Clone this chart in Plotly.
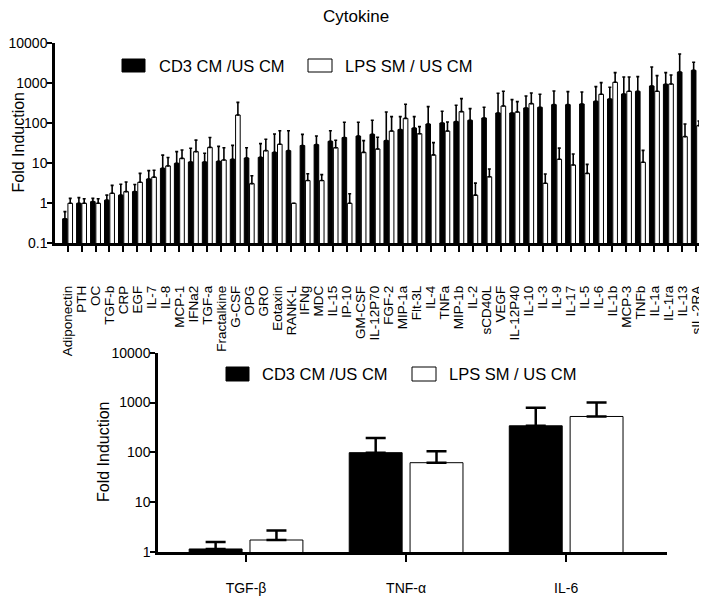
import plotly.graph_objects as go

# --- panel 1: all cytokines ---
cytokines = ["Adiponectin", "PTH", "OC", "TGF-b", "CRP", "EGF", "IL-7", "IL-8", "MCP-1", "IFNa2",
             "TGF-a", "Fractalkine", "G-CSF", "OPG", "GRO", "Eotaxin", "RANK-L", "IFNg", "MDC", "IL-15",
             "IP-10", "GM-CSF", "IL-12P70", "FGF-2", "MIP-1a", "Flt-3L", "IL-4", "TNFa", "MIP-1b", "IL-2",
             "sCD40L", "VEGF", "IL-12P40", "IL-10", "IL-3", "IL-9", "IL-17", "IL-5", "IL-6", "IL-1b",
             "MCP-3", "TNFb", "IL-1a", "IL-1ra", "IL-13", "sIL-2RA"]
cd3_fold = [0.41, 1.0, 1.1, 1.2, 1.6, 1.96, 4.05, 7.5, 10, 10.8,
            10.8, 11.2, 12.6, 13.6, 14.1, 18.8, 20.7, 27.8, 29.3, 35.5,
            44, 48, 53, 36.9, 69.5, 76, 96, 102, 110, 119,
            136, 181, 181, 242, 251, 293, 293, 304, 355, 406,
            541, 631, 858, 944, 1920, 2113]
cd3_sem = [0.21, 0.39, 0.23, 0.4, 1.4, 1.0, 2.5, 8.5, 9.6, 12.9,
           7, 15.3, 15.4, 10.9, 16.9, 35.2, 44.3, 25.2, 18.7, 29.5,
           62, 58, 66, 155, 77.5, 71, 165, 98, 172, 114,
           115, 381, 210, 240, 280, 350, 326, 303, 470, 388,
           897, 837, 1701, 904, 3492, 1237]
lps_fold = [1.0, 1.0, 1.0, 1.78, 1.96, 3.35, 4.5, 8.6, 13.3, 19.6,
            25, 12.1, 161, 3.1, 20.7, 29.9, 1.0, 3.7, 3.7, 24.5,
            1.0, 18.8, 22.8, 64, 133, 55, 16.2, 64, 196, 1.6,
            4.6, 271, 192, 310, 3.16, 12.6, 9.1, 5.6, 531, 1059,
            631, 10.6, 631, 962, 46.4, 87.5]
lps_sem = [0.33, 0.3, 0.3, 1.02, 1.44, 2.25, 2.2, 5.4, 8.2, 18.4,
           19, 12.4, 173, 1.8, 19.3, 35.1, 0, 1.8, 1.5, 13.1,
           0.74, 18.1, 21.9, 83, 166, 27.5, 16.7, 44, 218, 1.6,
           2.6, 360, 156, 263, 2.24, 11.4, 8, 3.8, 508, 789,
           807, 10.5, 924, 654, 49.6, 26.5]

# --- panel 2: selected cytokines ---
selected = ["TGF-β", "TNF-α", "IL-6"]
cd3_sel = [1.15, 98.5, 341]
cd3_sel_sem = [0.43, 94.5, 441]
lps_sel = [1.74, 62, 525]
lps_sel_sem = [0.97, 43, 475]

series_names = ["CD3 CM /US CM", "LPS SM / US CM"]
tick_vals = [0.1, 1, 10, 100, 1000, 10000]
tick_text = ["0.1", "1", "10", "100", "1000", "10000"]

# the page body has an 8px margin, so the figure is made 8px smaller
# and every position below is given in window pixels
PAGE_W, PAGE_H, OFF = 707, 599, 8
W, H = PAGE_W - OFF, PAGE_H - OFF
FONT = "Arial, Liberation Sans, sans-serif"


def px_x(v):
    return (v - OFF) / W


def px_y(v):
    return 1 - (v - OFF) / H


def bar(x, y, sem, black, xa, ya, thick, cap):
    return go.Bar(
        x=x, y=y, xaxis=xa, yaxis=ya, showlegend=False,
        marker=dict(color="black" if black else "white", line=dict(color="black", width=1)),
        error_y=dict(type="data", symmetric=False, array=sem, arrayminus=[0] * len(sem),
                     color="black", thickness=thick, width=cap),
    )


fig = go.Figure()
fig.add_trace(bar(cytokines, cd3_fold, cd3_sem, True, "x", "y", 1.6, 1.5))
fig.add_trace(bar(cytokines, lps_fold, lps_sem, False, "x", "y", 1.6, 1.5))
fig.add_trace(bar(selected, cd3_sel, cd3_sel_sem, True, "x2", "y2", 2.5, 10))
fig.add_trace(bar(selected, lps_sel, lps_sel_sem, False, "x2", "y2", 2.5, 10))

axis_common = dict(showline=True, linecolor="black", ticks="outside", tickcolor="black",
                   tickwidth=2, showgrid=False, zeroline=False, automargin=False)

fig.update_layout(
    width=W, height=H,
    margin=dict(l=0, r=0, t=0, b=0),
    plot_bgcolor="white", paper_bgcolor="white",
    font=dict(family=FONT, color="black", size=14),
    barmode="group", bargap=0.24, bargroupgap=0.13,
    xaxis=dict(axis_common, domain=[px_x(55), px_x(704)], range=[-0.9, 45.55], anchor="y",
               linewidth=3, ticklen=6, tickangle=-90, tickfont=dict(size=13.5),
               tickmode="array", tickvals=cytokines, ticktext=cytokines, ticklabelstandoff=28),
    yaxis=dict(axis_common, domain=[px_y(243.3), px_y(43.3)], type="log", range=[-1, 4], anchor="x",
               linewidth=2.5, ticklen=5, tickvals=tick_vals, tickmode="array", ticktext=tick_text,
               tickfont=dict(size=14), ticklabelstandoff=-3),
    xaxis2=dict(axis_common, domain=[px_x(158), px_x(667)], range=[-0.55, 2.63], anchor="y2",
                linewidth=3, ticklen=7, tickfont=dict(size=14), ticklabelstandoff=14),
    yaxis2=dict(axis_common, domain=[px_y(552), px_y(352.7)], type="log", range=[0, 4], anchor="x2",
                linewidth=2.5, ticklen=5, tickvals=tick_vals[1:], tickmode="array", ticktext=tick_text[1:],
                tickfont=dict(size=14), ticklabelstandoff=-3),
)

fig.add_annotation(text="Cytokine", x=px_x(356), y=px_y(5), xref="paper", yref="paper",
                   showarrow=False, font=dict(size=17), xanchor="center", yanchor="top")

# y-axis titles
fig.add_annotation(text="Fold Induction", x=px_x(8), y=px_y(142), xref="paper", yref="paper",
                   showarrow=False, textangle=-90, font=dict(size=16),
                   xanchor="left", yanchor="middle")
fig.add_annotation(text="Fold Induction", x=px_x(103), y=px_y(451), xref="paper", yref="paper",
                   showarrow=False, textangle=-90, font=dict(size=16),
                   xanchor="center", yanchor="middle")

# hand-drawn legends (wide swatches, as in the original)
legend_rows = [
    (65.5, [(122, 145, 157), (308, 332, 343)], 13),
    (374, [(226, 249, 260), (412, 436, 447)], 14),
]
for yc, items, hgt in legend_rows:
    for (x0, x1, tx), name, fill in zip(items, series_names, ["black", "white"]):
        fig.add_shape(type="rect", xref="paper", yref="paper",
                      x0=px_x(x0), x1=px_x(x1), y0=px_y(yc + hgt / 2), y1=px_y(yc - hgt / 2),
                      fillcolor=fill, line=dict(color="black", width=1))
        fig.add_annotation(text=name, x=px_x(tx), y=px_y(yc), xref="paper", yref="paper",
                           showarrow=False, xanchor="left", yanchor="middle", font=dict(size=16.5))

fig.write_html("out.html")
